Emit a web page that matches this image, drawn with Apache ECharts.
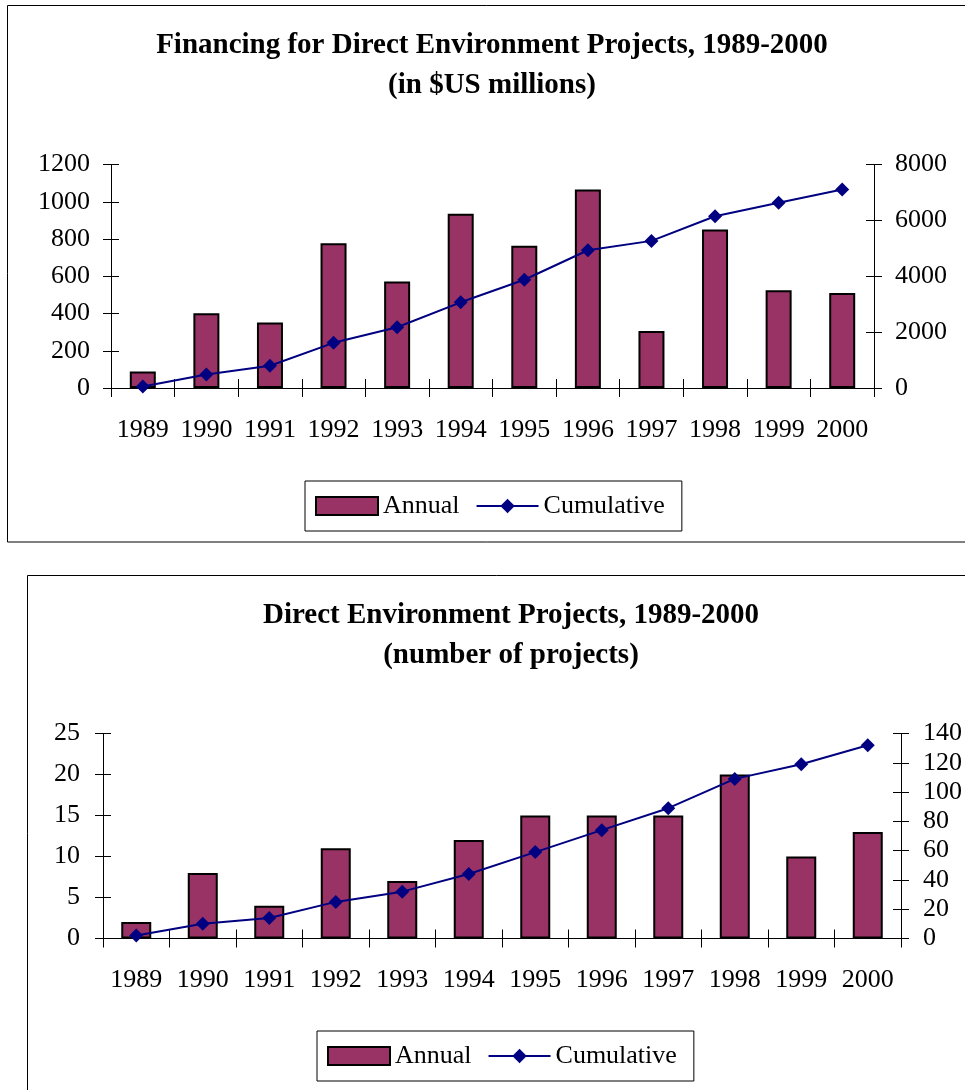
<!DOCTYPE html>
<html>
<head>
<meta charset="utf-8">
<script src="https://cdn.jsdelivr.net/npm/echarts@6/dist/echarts.min.js"></script>
<style>
html, body { margin: 0; padding: 0; background: #fff; }
#main { width: 965px; height: 1090px; }
</style>
</head>
<body>
<div id="main"></div>
<script>
var years = ['1989', '1990', '1991', '1992', '1993', '1994', '1995', '1996', '1997', '1998', '1999', '2000'];
// top chart, $US millions
var financeAnnual = [88, 401, 352, 777, 572, 935, 764, 1066, 306, 851, 525, 510];
var financeCumulative = [50, 484, 795, 1617, 2174, 3067, 3875, 4930, 5266, 6148, 6634, 7106];
// bottom chart, number of projects
var projectsAnnual = [2, 8, 4, 11, 7, 12, 15, 15, 15, 20, 10, 13];
var projectsCumulative = [2, 10, 14, 25, 32, 44, 59, 74, 89, 109, 119, 132];

var FONT = '"Liberation Serif", "Times New Roman", serif';
var PLUM = '#993366';
var NAVY = '#000080';

// category axis; the second copy draws the upward half of the tick marks
function catAxis(grid, inside) {
    return {
        gridIndex: grid,
        type: 'category',
        position: 'bottom',
        data: years,
        axisLine: { show: !inside, onZero: false, lineStyle: { color: '#000', width: 1 } },
        axisTick: { show: true, inside: inside, interval: 0, length: 9, lineStyle: { color: '#000' } },
        axisLabel: { show: !inside, interval: 0, color: '#000', fontSize: 26, fontFamily: FONT, margin: 29 },
        splitLine: { show: false }
    };
}

function valAxis(grid, pos, max, step, inside, margin) {
    return {
        gridIndex: grid,
        type: 'value',
        position: pos,
        min: 0,
        max: max,
        interval: step,
        axisLine: { show: !inside, lineStyle: { color: '#000', width: 1 } },
        axisTick: { show: true, inside: inside, length: 8, lineStyle: { color: '#000' } },
        axisLabel: {
            show: !inside, color: '#000', fontSize: 26, fontFamily: FONT, margin: margin,
            formatter: function (v) { return String(v); }
        },
        splitLine: { show: false }
    };
}

function legendAt(x, y) {
    return {
        left: x,
        top: y,
        orient: 'horizontal',
        data: [{ name: 'Annual', icon: 'rect' }, { name: 'Cumulative' }],
        selectedMode: false,
        itemWidth: 62,
        itemHeight: 18,
        itemGap: 16,
        padding: [12, 17, 12, 10],
        borderColor: '#000',
        borderWidth: 1,
        textStyle: { color: '#000', fontSize: 26, fontFamily: FONT }
    };
}

var chart = echarts.init(document.getElementById('main'));
var option = {
    backgroundColor: '#fff',
    animation: false,
    textStyle: { fontFamily: FONT },
    graphic: [
        { type: 'rect', z: -10, shape: { x: 7.5, y: 5.5, width: 1000, height: 536.5 },
          style: { fill: 'none', stroke: '#000', lineWidth: 1 } },
        { type: 'rect', z: -10, shape: { x: 27.5, y: 575.5, width: 1000, height: 600 },
          style: { fill: 'none', stroke: '#000', lineWidth: 1 } }
    ],
    title: [{
        text: 'Financing for Direct Environment Projects, 1989-2000\n(in $US millions)',
        left: 492,
        top: 26,
        padding: 0,
        textAlign: 'center',
        textStyle: { color: '#000', fontSize: 29, fontWeight: 'bold', fontFamily: FONT, lineHeight: 40 }
    }, {
        text: 'Direct Environment Projects, 1989-2000\n(number of projects)',
        left: 511,
        top: 596,
        padding: 0,
        textAlign: 'center',
        textStyle: { color: '#000', fontSize: 29, fontWeight: 'bold', fontFamily: FONT, lineHeight: 40 }
    }],
    legend: [legendAt(305, 481), legendAt(317, 1031)],
    grid: [
        { left: 111, top: 164.5, width: 763, height: 223.5 },
        { left: 103, top: 733.5, width: 805, height: 205 }
    ],
    xAxis: [catAxis(0, false), catAxis(0, true), catAxis(1, false), catAxis(1, true)],
    yAxis: [
        valAxis(0, 'left', 1200, 200, false, 21),
        valAxis(0, 'right', 8000, 2000, false, 21),
        valAxis(0, 'left', 1200, 200, true, 21),
        valAxis(0, 'right', 8000, 2000, true, 21),
        valAxis(1, 'left', 25, 5, false, 23),
        valAxis(1, 'right', 140, 20, false, 22),
        valAxis(1, 'left', 25, 5, true, 23),
        valAxis(1, 'right', 140, 20, true, 22)
    ],
    series: [{
        name: 'Annual',
        type: 'bar',
        xAxisIndex: 0,
        yAxisIndex: 0,
        barWidth: 26,
        itemStyle: { color: PLUM, borderColor: '#000', borderWidth: 2 },
        data: financeAnnual
    }, {
        name: 'Cumulative',
        type: 'line',
        xAxisIndex: 0,
        yAxisIndex: 1,
        symbol: 'diamond',
        symbolSize: 14,
        lineStyle: { color: NAVY, width: 2 },
        itemStyle: { color: NAVY },
        data: financeCumulative
    }, {
        name: 'Annual',
        type: 'bar',
        xAxisIndex: 2,
        yAxisIndex: 4,
        barWidth: 30,
        itemStyle: { color: PLUM, borderColor: '#000', borderWidth: 2 },
        data: projectsAnnual
    }, {
        name: 'Cumulative',
        type: 'line',
        xAxisIndex: 2,
        yAxisIndex: 5,
        symbol: 'diamond',
        symbolSize: 14,
        lineStyle: { color: NAVY, width: 2 },
        itemStyle: { color: NAVY },
        data: projectsCumulative
    }]
};
chart.setOption(option);
</script>
</body>
</html>
